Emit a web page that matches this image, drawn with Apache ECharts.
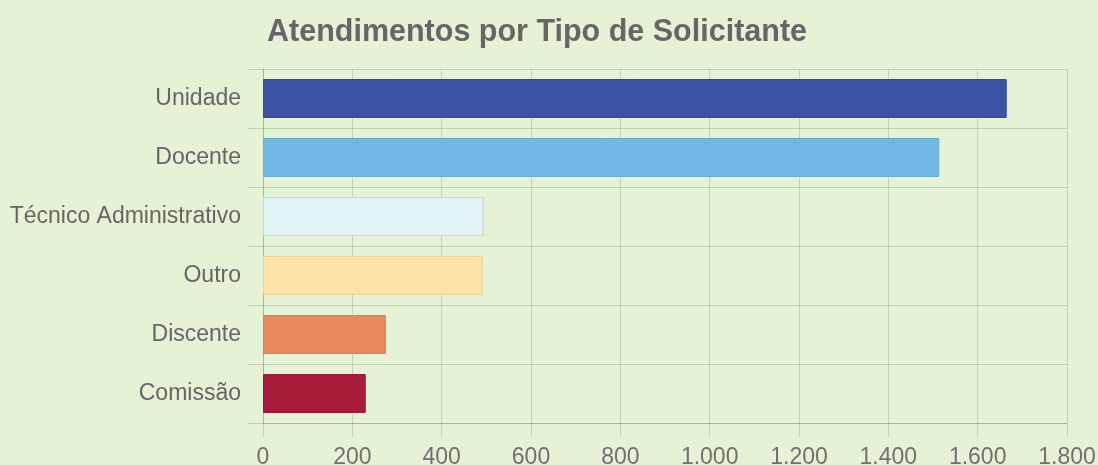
<!DOCTYPE html>
<html><head><meta charset="utf-8">
<script src="https://cdn.jsdelivr.net/npm/echarts@6/dist/echarts.min.js"></script>
<style>html,body{margin:0;padding:0;background:#e6f2d6;}#c{width:1098px;height:465px;}</style>
</head><body><div id="c"></div>
<script>
const categories = ['Unidade','Docente','Técnico Administrativo','Outro','Discente','Comissão'];
const values = [1665, 1514, 494, 492, 275, 230];
const colors = ['#3c53a3','#72b8e6','#e2f4f8','#fbe2a7','#e8895c','#a91b3a'];
const borders = ['#34489a','#66acd9','#c9d6d3','#e8d29a','#d67e55','#98183a'];
const xTicks = {min:0, max:1800, interval:200};

const chart = echarts.init(document.getElementById('c'));
const gridCol = 'rgba(60,80,40,0.2)';
chart.setOption({
  backgroundColor:'#e6f2d6',
  animation:false,
  title:{text:'Atendimentos por Tipo de Solicitante', left:262, top:12,
    textStyle:{fontFamily:'Liberation Sans, Arial', fontSize:30.5, fontWeight:'bold', color:'#666666'}},
  grid:{left:263, right:31, top:69, bottom:42, outerBoundsMode:'none', containLabel:false},
  xAxis:{type:'value', min:xTicks.min, max:xTicks.max, interval:xTicks.interval,
    axisLine:{show:true, lineStyle:{color:gridCol}},
    axisTick:{show:true, length:14, lineStyle:{color:gridCol}},
    splitLine:{show:true, lineStyle:{color:gridCol}},
    axisLabel:{margin:23, fontFamily:'Liberation Sans, Arial', fontSize:23, color:'#707070',
      formatter:v=>v.toLocaleString('de-DE')}},
  yAxis:{type:'category', inverse:true, data:categories,
    axisLine:{show:true, lineStyle:{color:gridCol}},
    axisTick:{show:true, length:15, lineStyle:{color:gridCol}},
    splitLine:{show:true, lineStyle:{color:gridCol}},
    axisLabel:{margin:22, fontFamily:'Liberation Sans, Arial', fontSize:23, color:'#666666'}},
  series:[{type:'bar', barWidth:'66%',
    data:values.map((v,i)=>({value:v, itemStyle:{color:colors[i], borderColor:borders[i], borderWidth:1}}))}]
});
</script></body></html>
